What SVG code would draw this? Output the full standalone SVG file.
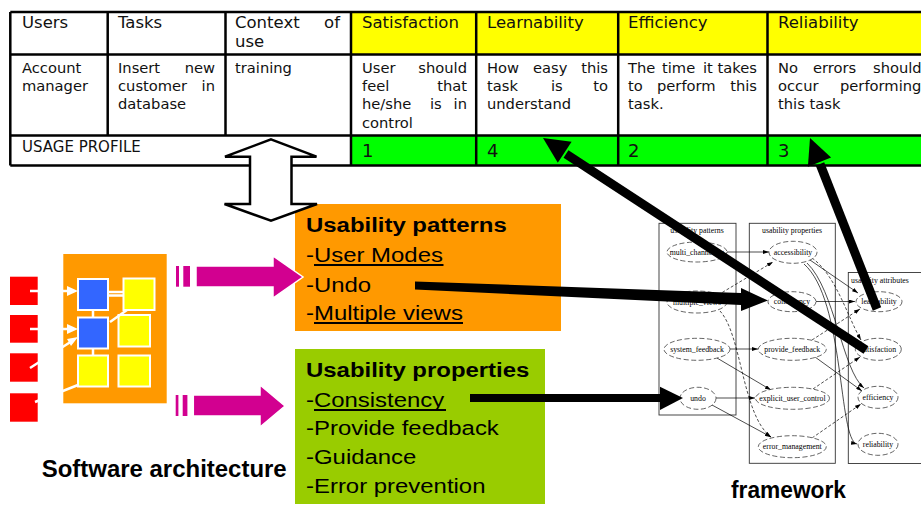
<svg xmlns="http://www.w3.org/2000/svg" width="921" height="507" viewBox="0 0 921 507">
<defs>
<style>
.tb{font-family:"DejaVu Sans",sans-serif;font-size:16.5px;fill:#111}
.bd{font-family:"DejaVu Sans",sans-serif;font-size:14.7px;fill:#111}
.up{font-family:"DejaVu Sans",sans-serif;font-size:15px;fill:#111}
.num{font-family:"DejaVu Sans",sans-serif;font-size:18px;fill:#111}
.e{text-anchor:end}
.grid{stroke:#000;stroke-width:2.5;fill:none}
.bx{font-family:"Liberation Sans",Arial,sans-serif;font-size:21px;fill:#000}
.bxb{font-weight:bold}
.lbl{font-family:"Liberation Sans",Arial,sans-serif;font-weight:bold;fill:#000}
.gl{font-family:"Liberation Serif","Times New Roman",serif;font-size:7.8px;fill:#000;text-anchor:middle}
.cl{fill:none;stroke:#333;stroke-width:0.9}
.nd{fill:#fff;stroke:#222;stroke-width:0.7;stroke-dasharray:5,2.5}
.ed{fill:none;stroke:#000;stroke-width:0.7;marker-end:url(#ah)}
.dash{stroke-dasharray:3,2}
.thick{stroke:#000;stroke-width:9;fill:none}
.pink{fill:#D20090}
.wl{stroke:#fff;stroke-width:2.5;fill:none}
.blue{fill:#3366FF;stroke:#fff;stroke-width:2}
.yel{fill:#FFFF00;stroke:#fff;stroke-width:2}
</style>
<marker id="ah" markerWidth="6" markerHeight="4" refX="6" refY="2" orient="auto" markerUnits="userSpaceOnUse"><path d="M0,0 L6,2 L0,4 z" fill="#000"/></marker>
</defs>
<rect width="921" height="507" fill="#fff"/>

<!-- Usage profile table -->
<g id="usage-table">
<rect x="351" y="12" width="575" height="42.5" fill="#FFFF00"/>
<rect x="351" y="135.5" width="575" height="30" fill="#00FF00"/>
<path class="grid" d="M10.3,12 H926 M10.3,54.5 H926 M10.3,135.5 H926 M10.3,165.5 H926 M10.3,12 V165.5 M107.7,12 V135.5 M225.5,12 V135.5 M351,12 V165.5 M476.2,12 V165.5 M618.2,12 V165.5 M767.5,12 V165.5"/>
<text class="tb" x="22" y="28">Users</text>
<text class="tb" x="118" y="28">Tasks</text>
<text class="tb" x="235" y="28">Context</text><text class="tb e" x="340" y="28">of</text>
<text class="tb" x="235" y="46.5">use</text>
<text class="tb" x="362" y="28">Satisfaction</text>
<text class="tb" x="487" y="28">Learnability</text>
<text class="tb" x="628" y="28">Efficiency</text>
<text class="tb" x="778" y="28">Reliability</text>

<text class="bd" x="22" y="72.7">Account</text>
<text class="bd" x="22" y="91">manager</text>
<text class="bd" x="118" y="72.7">Insert</text><text class="bd e" x="215" y="72.7">new</text>
<text class="bd" x="118" y="91">customer</text><text class="bd e" x="215" y="91">in</text>
<text class="bd" x="118" y="109.3">database</text>
<text class="bd" x="235" y="72.7">training</text>
<text class="bd" x="362" y="72.7">User</text><text class="bd e" x="467" y="72.7">should</text>
<text class="bd" x="362" y="91">feel</text><text class="bd e" x="467" y="91">that</text>
<text class="bd" x="362" y="109.3">he/she</text><text class="bd" x="430" y="109.3">is</text><text class="bd e" x="467" y="109.3">in</text>
<text class="bd" x="362" y="127.6">control</text>
<text class="bd" x="487" y="72.7">How</text><text class="bd" x="533" y="72.7">easy</text><text class="bd e" x="608" y="72.7">this</text>
<text class="bd" x="487" y="91">task</text><text class="bd" x="551" y="91">is</text><text class="bd e" x="608" y="91">to</text>
<text class="bd" x="487" y="109.3">understand</text>
<text class="bd" x="628" y="72.7">The</text><text class="bd" x="662" y="72.7">time</text><text class="bd" x="703" y="72.7">it</text><text class="bd e" x="757" y="72.7">takes</text>
<text class="bd" x="628" y="91">to</text><text class="bd" x="657" y="91">perform</text><text class="bd e" x="757" y="91">this</text>
<text class="bd" x="628" y="109.3">task.</text>
<text class="bd" x="778" y="72.7">No</text><text class="bd" x="813" y="72.7">errors</text><text class="bd" x="873" y="72.7">should</text>
<text class="bd" x="778" y="91">occur</text><text class="bd" x="840" y="91">performing</text>
<text class="bd" x="778" y="109.3">this task</text>

<text class="up" x="22" y="151.7">USAGE PROFILE</text>
<text class="num" x="362" y="157">1</text>
<text class="num" x="487" y="157">4</text>
<text class="num" x="628" y="157">2</text>
<text class="num" x="778" y="157">3</text>
</g>

<!-- Software architecture -->
<g id="software-architecture">
<rect x="10" y="276.7" width="27.7" height="28.3" fill="#FF0000"/>
<rect x="10" y="315" width="27.7" height="27.7" fill="#FF0000"/>
<rect x="10" y="353.3" width="27.7" height="28.4" fill="#FF0000"/>
<rect x="10" y="393.3" width="27.7" height="28.4" fill="#FF0000"/>
<rect x="63.3" y="254" width="103.4" height="149.3" fill="#FF9900"/>
<rect class="blue" x="78" y="279" width="30" height="31"/>
<rect class="blue" x="78" y="317.5" width="30" height="31"/>
<rect class="yel" x="78" y="355.5" width="30" height="31"/>
<rect class="yel" x="123.5" y="278.5" width="31" height="31.5"/>
<rect class="yel" x="118.5" y="315" width="31.5" height="31.5"/>
<rect class="yel" x="118.5" y="355.5" width="31.5" height="31"/>
<path class="wl" d="M30,291 H70 M30,329 H70 M30,368 L72,341 M35,402 L78,385 M108,292 H123.5 M108,295.5 H123.5 M93,310 V317.5 M93,348.5 V355.5 M110,322 L127,310" stroke-width="2"/>
<path d="M67,286 L78,291 L67,296 z M67,324 L78,329 L67,334 z M67,339 L78,337 L71,346 z" fill="#fff"/>
<text class="lbl" x="41.7" y="476.7" font-size="23" textLength="245" lengthAdjust="spacingAndGlyphs">Software architecture</text>
</g>

<!-- Usability patterns box -->
<g id="usability-patterns">
<rect x="295" y="204" width="266" height="127" fill="#FF9900"/>
<g transform="translate(306,0) scale(1.14,1)">
<text class="bx bxb" x="0" y="231.7">Usability patterns</text>
<text class="bx" x="0" y="261.7">-User Modes</text>
<text class="bx" x="0" y="291.7">-Undo</text>
<text class="bx" x="0" y="320">-Multiple views</text>
</g>
<rect x="314" y="264" width="129.5" height="2" fill="#000"/>
<rect x="314" y="322" width="149" height="2" fill="#000"/>
</g>

<!-- Usability properties box -->
<g id="usability-properties">
<rect x="295" y="349" width="250" height="155" fill="#99CC00"/>
<g transform="translate(306,0) scale(1.14,1)">
<text class="bx bxb" x="0" y="376.7">Usability properties</text>
<text class="bx" x="0" y="406.7">-Consistency</text>
<text class="bx" x="0" y="435.3">-Provide feedback</text>
<text class="bx" x="0" y="464">-Guidance</text>
<text class="bx" x="0" y="493">-Error prevention</text>
</g>
<rect x="314" y="409" width="132" height="2" fill="#000"/>
</g>

<!-- Framework graph -->
<g id="framework">
<rect class="cl" x="659" y="223.3" width="77" height="191.7"/>
<rect class="cl" x="749.3" y="223.3" width="86" height="240"/>
<rect class="cl" x="848.3" y="272.5" width="80" height="191"/>
<text class="gl" x="697" y="233">usability patterns</text>
<text class="gl" x="792" y="233">usability properties</text>
<text class="gl" x="851" y="282.5" style="text-anchor:start">usability attributes</text>
<text class="lbl" x="731" y="498.3" font-size="23" textLength="115" lengthAdjust="spacingAndGlyphs">framework</text>
</g>

<g id="connectors">
<path class="ed" d="M727,252 L769,252"/>
<path class="ed dash" d="M718,295 L773,262"/>
<path class="ed dash" d="M720,311 C742,335 742,415 771,437"/>
<path class="ed" d="M730,349 L758,349"/>
<path class="ed" d="M717,358 L771,390"/>
<path class="ed" d="M716,398 L755,398"/>
<path class="ed" d="M712,405 L771,437"/>
<path class="ed" d="M810,260 L858,293"/>
<path class="ed dash" d="M812,258 C836,275 848,318 861,340"/>
<path class="ed" d="M807,263 C835,290 842,370 864,388"/>
<path class="ed" d="M816,301.5 L855,301.5"/>
<path class="ed dash" d="M812,340 L860,309"/>
<path class="ed" d="M815,357 L862,391"/>
<path class="ed dash" d="M813,389 L860,357"/>
<path class="ed dash" d="M812,438 L861,404"/>
<path class="ed" d="M804,264 C845,300 838,440 857,444"/>
</g>

<g id="graph-nodes">
<g id="n-multi"><ellipse class="nd" cx="697" cy="252" rx="30" ry="10"/><text class="gl" x="697" y="254.7">multi_channeling</text></g>
<g id="n-views"><ellipse class="nd" cx="697" cy="302" rx="30" ry="11"/><text class="gl" x="697" y="304.7">multiple_views</text></g>
<g id="n-sysfb"><ellipse class="nd" cx="697" cy="349.3" rx="33" ry="11"/><text class="gl" x="697" y="352">system_feedback</text></g>
<g id="n-undo"><ellipse class="nd" cx="698" cy="398.3" rx="18" ry="11"/><text class="gl" x="698" y="401">undo</text></g>
<g id="n-access"><ellipse class="nd" cx="793" cy="252.3" rx="24" ry="11"/><text class="gl" x="793" y="255">accessibility</text></g>
<g id="n-consist"><ellipse class="nd" cx="792" cy="301.7" rx="24" ry="10"/><text class="gl" x="792" y="304.4">consistency</text></g>
<g id="n-provfb"><ellipse class="nd" cx="792.3" cy="349.3" rx="34" ry="11"/><text class="gl" x="792.3" y="352">provide_feedback</text></g>
<g id="n-explicit"><ellipse class="nd" cx="792.5" cy="398.3" rx="37" ry="11"/><text class="gl" x="792.5" y="401">explicit_user_control</text></g>
<g id="n-errmgmt"><ellipse class="nd" cx="792.3" cy="446.7" rx="34" ry="11"/><text class="gl" x="792.3" y="449.4">error_management</text></g>
<g id="n-learn"><ellipse class="nd" cx="879" cy="301.7" rx="23" ry="10"/><text class="gl" x="879" y="304.4">learnability</text></g>
<g id="n-satis"><ellipse class="nd" cx="878.3" cy="349.3" rx="23" ry="11"/><text class="gl" x="878.3" y="352">satisfaction</text></g>
<g id="n-effic"><ellipse class="nd" cx="878" cy="397.3" rx="20" ry="11"/><text class="gl" x="878" y="400">efficiency</text></g>
<g id="n-relia"><ellipse class="nd" cx="878" cy="444.3" rx="20" ry="11"/><text class="gl" x="878" y="447">reliability</text></g>
</g>

<g id="big-arrows">
<polygon points="271,139.3 316.5,156.7 291.5,156.7 291.5,204 317,204 271,220.7 224.5,204 250,204 250,156.7 225,156.7" fill="#fff" stroke="#000" stroke-width="2.5" stroke-linejoin="miter"/>
<rect class="pink" x="176" y="266" width="3" height="20.7"/>
<rect class="pink" x="183.3" y="266" width="6.7" height="20.7"/>
<polygon class="pink" points="196,266 273,266 273,256 303,277 273,298 273,287 196,287" stroke="#fff" stroke-width="1.5"/>
<rect class="pink" x="175.7" y="395" width="2.7" height="21"/>
<rect class="pink" x="182.7" y="395" width="4.7" height="21"/>
<polygon class="pink" points="193.3,395 260,395 260,385 285,406 260,427 260,416 193.3,416" stroke="#fff" stroke-width="1.5"/>
<polygon points="415,281.5 741,293 741,288 768,300.5 741,311 741,305 415,289.5" fill="#000"/>
<line class="thick" x1="866" y1="350" x2="566" y2="154"/>
<polygon points="543,138 571.6,141.8 557.8,162.8" fill="#000"/>
<line class="thick" x1="877" y1="309" x2="820" y2="164"/>
<polygon points="810,138 831.1,157.6 807.9,166.8" fill="#000"/>
<line x1="470" y1="398" x2="662" y2="398" stroke="#000" stroke-width="8"/>
<polygon points="660,386.7 683,398 660,410" fill="#000"/>
</g>
</svg>
